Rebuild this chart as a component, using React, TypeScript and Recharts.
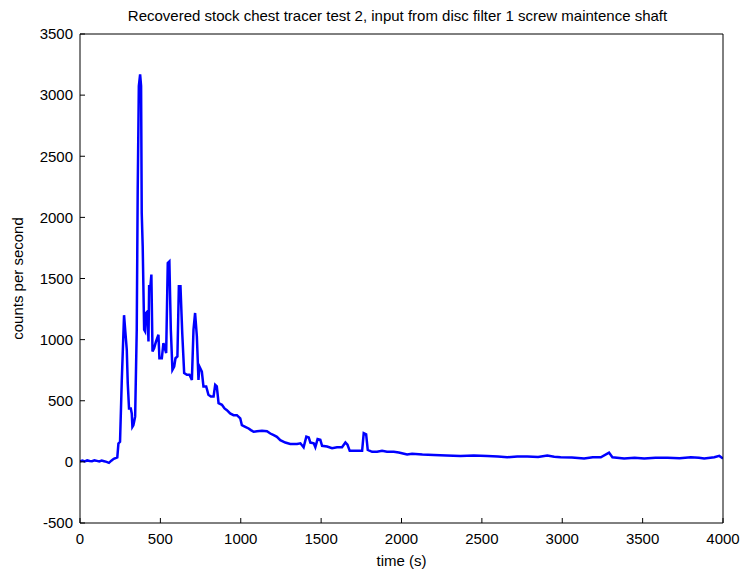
import React from 'react';
import { LineChart, Line, XAxis, YAxis, Label } from 'recharts';

// time (s) and counts per second
const times = [
  0, 15, 30, 45, 60, 75, 90, 105, 120, 135, 150, 165, 180, 195, 210, 232, 239, 249, 260, 274,
  283, 291, 297, 305, 316, 322, 326, 332, 337, 343, 353, 359, 366, 374, 380, 384, 390, 399, 405, 411,
  420, 426, 430, 438, 444, 451, 461, 473, 488, 494, 509, 519, 530, 536, 546, 556, 565, 575, 586, 594,
  606, 615, 625, 636, 648, 665, 681, 696, 706, 716, 727, 737, 743, 758, 768, 785, 799, 814, 831, 841,
  851, 862, 883, 899, 914, 934, 955, 976, 997, 1007, 1028, 1049, 1063, 1080, 1101, 1132, 1163, 1184, 1205, 1225,
  1246, 1277, 1308, 1350, 1371, 1391, 1408, 1423, 1433, 1454, 1464, 1478, 1495, 1506, 1537, 1568, 1599, 1630, 1651, 1664,
  1678, 1724, 1755, 1765, 1780, 1790, 1817, 1848, 1879, 1910, 1952, 1983, 2035, 2066, 2130, 2201, 2280, 2367, 2450, 2534,
  2600, 2658, 2720, 2783, 2850, 2907, 2950, 2990, 3060, 3136, 3190, 3240, 3291, 3312, 3385, 3450, 3510, 3580, 3655, 3730,
  3800, 3850, 3883, 3946, 3977, 4000,
];
const counts = [
  5, 10, 3, 12, 8, 5, 12, 8, 3, 10, 5, 0, -8, 10, 25, 37, 150, 165, 670, 1200,
  1050, 917, 644, 437, 437, 396, 287, 300, 330, 370, 1081, 2227, 3074, 3170, 3074, 2036, 1765, 1081, 1067, 1218,
  1231, 985, 1436, 1436, 1532, 903, 930, 985, 1040, 848, 848, 971, 917, 890, 1627, 1640, 1081, 753, 780, 848,
  862, 1436, 1436, 1054, 726, 712, 712, 671, 1081, 1218, 1026, 671, 780, 739, 617, 617, 549, 535, 535, 630,
  617, 480, 467, 437, 423, 396, 382, 382, 355, 300, 287, 273, 260, 246, 250, 255, 250, 232, 218, 205,
  178, 158, 147, 147, 152, 120, 207, 200, 158, 152, 120, 186, 180, 131, 125, 112, 120, 120, 158, 140,
  90, 90, 90, 235, 226, 98, 82, 82, 90, 82, 82, 76, 60, 66, 60, 57, 52, 49, 52, 49,
  44, 38, 44, 44, 40, 52, 42, 38, 35, 27, 38, 38, 76, 38, 27, 33, 27, 33, 33, 30,
  38, 33, 27, 38, 49, 27,
];
const xTicks = [0, 500, 1000, 1500, 2000, 2500, 3000, 3500, 4000];
const yTicks = [-500, 0, 500, 1000, 1500, 2000, 2500, 3000, 3500];

const data = times.map((t, i) => ({ t, v: counts[i] }));

const font = '"Liberation Sans", Arial, sans-serif';
const textStyle = { fill: '#000', fontSize: 15, fontFamily: font };

export default function App() {
  return (
    <div style={{ position: 'absolute', left: 0, top: 0, width: 747, height: 573, background: '#fff', fontFamily: font }}>
      <div
        style={{
          position: 'absolute',
          left: 76,
          width: 643,
          top: 7,
          textAlign: 'center',
          fontSize: 15,
          color: '#000',
          whiteSpace: 'nowrap',
        }}
      >
        Recovered stock chest tracer test 2, input from disc filter 1 screw maintence shaft
      </div>
      <LineChart width={747} height={573} data={data} margin={{ top: 33, right: 23, left: 0, bottom: 0 }}>
        <XAxis
          dataKey="t"
          type="number"
          domain={[0, 4000]}
          ticks={xTicks}
          allowDataOverflow
          height={50}
          tickSize={-5}
          tickMargin={15}
          tick={textStyle}
          axisLine={{ stroke: '#000' }}
          tickLine={{ stroke: '#000' }}
        >
          <Label value="time (s)" position="insideBottom" offset={7} style={textStyle} />
        </XAxis>
        <XAxis
          xAxisId="top"
          dataKey="t"
          orientation="top"
          type="number"
          domain={[0, 4000]}
          ticks={xTicks}
          allowDataOverflow
          height={1}
          tickSize={-5}
          tick={false}
          axisLine={{ stroke: '#000' }}
          tickLine={{ stroke: '#000' }}
        />
        <YAxis
          type="number"
          domain={[-500, 3500]}
          ticks={yTicks}
          allowDataOverflow
          width={80}
          tickSize={-5}
          tickMargin={12}
          tick={textStyle}
          axisLine={{ stroke: '#000' }}
          tickLine={{ stroke: '#000' }}
        >
          <Label
            value="counts per second"
            angle={-90}
            position="insideLeft"
            offset={18}
            textAnchor="middle"
            style={textStyle}
          />
        </YAxis>
        <YAxis
          yAxisId="right"
          orientation="right"
          type="number"
          domain={[-500, 3500]}
          ticks={yTicks}
          allowDataOverflow
          width={1}
          tickSize={-5}
          tick={false}
          axisLine={{ stroke: '#000' }}
          tickLine={{ stroke: '#000' }}
        />
        <Line
          type="linear"
          dataKey="v"
          stroke="#0000ff"
          strokeWidth={2.5}
          dot={false}
          isAnimationActive={false}
        />
        {/* invisible copy so the top/right frame axes get a domain and render */}
        <Line
          xAxisId="top"
          yAxisId="right"
          type="linear"
          dataKey="v"
          stroke="none"
          dot={false}
          activeDot={false}
          legendType="none"
          isAnimationActive={false}
        />
      </LineChart>
    </div>
  );
}
